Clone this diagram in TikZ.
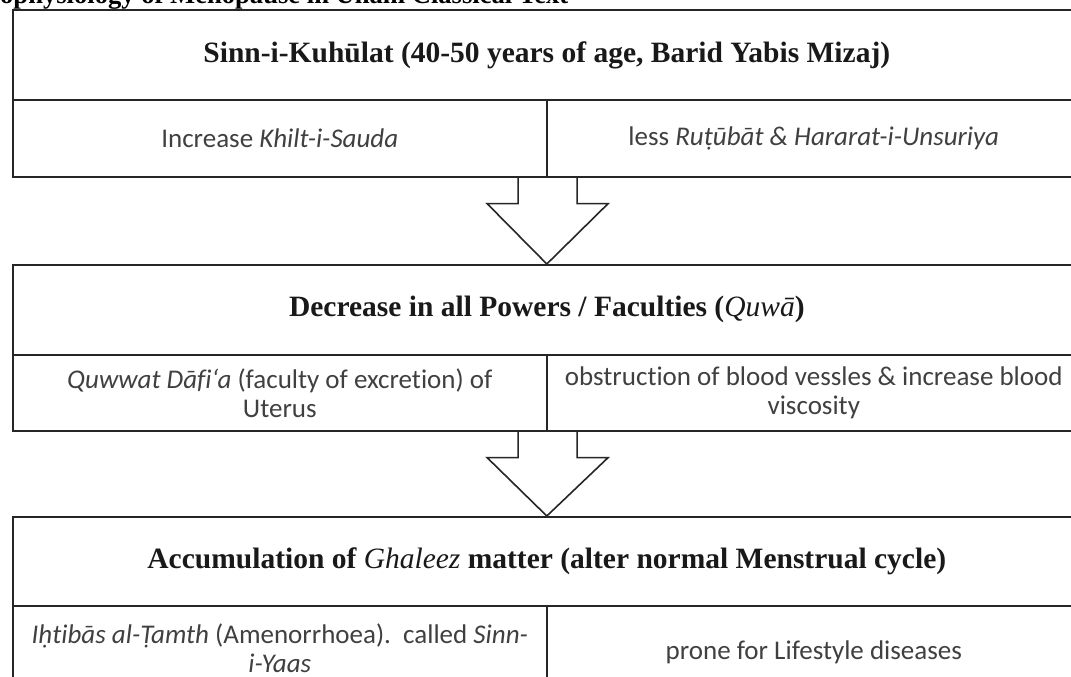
\documentclass[tikz,border=0pt]{standalone}
\usepackage{fontspec}
\setmainfont{Liberation Serif}
\newfontfamily\bodyfont[Ligatures={NoCommon}]{Carlito}
\usetikzlibrary{calc}
\begin{document}
\begin{tikzpicture}[x=1pt,y=-1pt,
  cell/.style={draw=black!85, line width=1.6pt, anchor=north west, inner sep=0pt, align=center},
  hdr/.style={cell, font=\fontsize{29.5}{34}\selectfont\bfseries, text=black!90, minimum width=1068pt},
  body/.style={cell, font=\bodyfont\fontsize{27}{29}\selectfont, text=black!75, minimum width=534pt},
  blockarrow/.style={draw=black!85, line width=1.6pt, fill=white, line join=miter},
  titletext/.style={font=\fontsize{26.6}{30}\selectfont\bfseries, anchor=base west, inner sep=0pt}
]
\useasboundingbox (0,0) rectangle (1071,677);
\clip (0,0) rectangle (1071,677);
\fill[white] (0,0) rectangle (1071,677);

\node[titletext] (title) at (0,3.5) {ophysiology of Menopause in Unani Classical Text};

% block 1
\node[hdr, minimum height=89.5pt] (h1) at (12,9.5) {Sinn-i-Kuhūlat (40-50 years of age, Barid Yabis Mizaj)};
\node[body, minimum height=77pt] (r1a) at (12,99) {Increase \textit{Khilt-i-Sauda}};
\node[body, minimum height=77pt] (r1b) at (546,99) {less \textit{Ruṭūbāt \& Hararat-i-Unsuriya}};

% block 2
\node[hdr, minimum height=90pt] (h2) at (12,264) {Decrease in all Powers / Faculties ({\mdseries\itshape Quwā})};
\node[body, minimum height=76pt] (r2a) at (12,354) {\textit{Quwwat Dāfi‘a} (faculty of excretion) of\\Uterus};
\node[body, minimum height=76pt] (r2b) at (546,354) {obstruction of blood vessles \& increase blood\\viscosity};

% block 3
\node[hdr, minimum height=89pt] (h3) at (12,516) {Accumulation of {\mdseries\itshape Ghaleez} matter (alter normal Menstrual cycle)};
\node[body, minimum height=84pt] (r3a) at (12,605) {\textit{Iḥtibās al-Ṭamth} (Amenorrhoea).\ \ called \textit{Sinn-}\\\textit{i-Yaas}};
\node[body, minimum height=92pt] (r3b) at (546,605) {prone for Lifestyle diseases};

% block arrows
\coordinate (a1) at (r1a.south east);
\filldraw[blockarrow] ($(a1)+(-29.5,0)$) -- ($(a1)+(-29.5,26)$) -- ($(a1)+(-60.5,26)$)
  -- (h2.north) -- ($(a1)+(60.5,26)$) -- ($(a1)+(29.5,26)$) -- ($(a1)+(29.5,0)$);
\coordinate (a2) at (r2a.south east);
\filldraw[blockarrow] ($(a2)+(-29.5,0)$) -- ($(a2)+(-29.5,26)$) -- ($(a2)+(-60.5,26)$)
  -- (h3.north) -- ($(a2)+(60.5,26)$) -- ($(a2)+(29.5,26)$) -- ($(a2)+(29.5,0)$);
\draw[draw=black!85, line width=1.6pt] (r1a.south west) -- (r1b.south east);
\draw[draw=black!85, line width=1.6pt] (r2a.south west) -- (r2b.south east);
\end{tikzpicture}
\end{document}
